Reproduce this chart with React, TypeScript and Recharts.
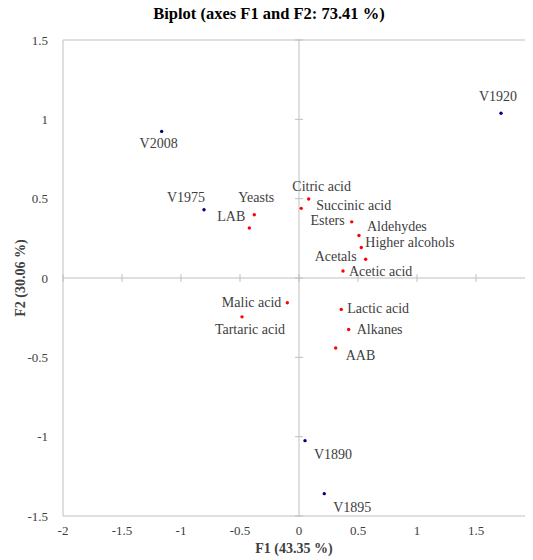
import React from 'react';
import { ScatterChart, Scatter, XAxis, YAxis, ReferenceLine } from 'recharts';

// observations (blue)
const OBS_NAMES = ['V2008', 'V1975', 'V1920', 'V1890', 'V1895'];
const OBS_F1 = [-1.164, -0.805, 1.712, 0.051, 0.214];
const OBS_F2 = [0.924, 0.43, 1.038, -1.025, -1.359];

// variables (red)
const VAR_NAMES = [
  'Citric acid', 'Succinic acid', 'Yeasts', 'LAB', 'Esters', 'Aldehydes', 'Higher alcohols',
  'Acetals', 'Acetic acid', 'Malic acid', 'Tartaric acid', 'Lactic acid', 'Alkanes', 'AAB',
];
const VAR_F1 = [0.082, 0.019, -0.379, -0.421, 0.447, 0.508, 0.528, 0.565, 0.373, -0.099, -0.483, 0.358, 0.421, 0.311];
const VAR_F2 = [0.498, 0.439, 0.399, 0.315, 0.354, 0.268, 0.192, 0.118, 0.044, -0.156, -0.245, -0.198, -0.325, -0.441];

const X_TICKS = [-2, -1.5, -1, -0.5, 0, 0.5, 1, 1.5, 2];
const Y_TICKS = [-1.5, -1, -0.5, 0, 0.5, 1, 1.5];

const TITLE = 'Biplot (axes F1 and F2: 73.41 %)';
const X_TITLE = 'F1 (43.35 %)';
const Y_TITLE = 'F2 (30.06 %)';

// where each point's label sits relative to its dot (px)
const LABEL_POS: Record<string, [number, number, 'start' | 'middle' | 'end']> = {
  V2008: [-3, 12, 'middle'],
  V1975: [-18, -12, 'middle'],
  V1920: [-3, -17, 'middle'],
  V1890: [28, 14, 'middle'],
  V1895: [28, 14, 'middle'],
  'Citric acid': [13, -12, 'middle'],
  'Succinic acid': [15, -3, 'start'],
  Yeasts: [2, -17, 'middle'],
  LAB: [-18, -12, 'middle'],
  Esters: [-7, -1, 'end'],
  Aldehydes: [8, -9, 'start'],
  'Higher alcohols': [4, -5, 'start'],
  Acetals: [-9, -3, 'end'],
  'Acetic acid': [6, 0, 'start'],
  'Malic acid': [-6, 0, 'end'],
  'Tartaric acid': [8, 13, 'middle'],
  'Lactic acid': [6, -1, 'start'],
  Alkanes: [8, 0, 'start'],
  AAB: [10, 8, 'start'],
};

const FONT = '"Liberation Serif", "Times New Roman", serif';
const GRID = '#bfbfbf';
const TXT = '#404040';

const obsData = OBS_NAMES.map((name, i) => ({ name, f1: OBS_F1[i], f2: OBS_F2[i] }));
const varData = VAR_NAMES.map((name, i) => ({ name, f1: VAR_F1[i], f2: VAR_F2[i] }));

const makeShape = (color: string) => (props: any) => {
  const { cx, cy, payload } = props;
  const [dx, dy, anchor] = LABEL_POS[payload.name] ?? [6, 0, 'start'];
  return (
    <g>
      <circle cx={cx} cy={cy} r={1.7} fill={color} />
      <text
        x={cx + dx}
        y={cy + dy}
        textAnchor={anchor}
        dominantBaseline="central"
        fontSize={14}
        fill={TXT}
        fontFamily={FONT}
      >
        {payload.name}
      </text>
    </g>
  );
};

// small cross ticks along the zero axes
const TICK_HALF_X = 0.034;
const TICK_HALF_Y = 0.025;

export default function App() {
  return (
    <div style={{ position: 'relative', margin: '-8px 0 0 -8px', width: 533, height: 560, overflow: 'hidden', background: '#fff', fontFamily: FONT }}>
      <div style={{ position: 'absolute', top: 3, left: 0, width: 538, textAlign: 'center', fontWeight: 'bold', fontSize: 16.5, lineHeight: '22px', color: '#000' }}>
        {TITLE}
      </div>
      <div style={{ position: 'absolute', left: 21, top: 278, transform: 'translate(-50%, -50%) rotate(-90deg)', whiteSpace: 'nowrap', fontWeight: 'bold', fontSize: 14, color: TXT }}>
        {Y_TITLE}
      </div>
      <div style={{ position: 'absolute', left: 294, top: 549, transform: 'translate(-50%, -50%)', whiteSpace: 'nowrap', fontWeight: 'bold', fontSize: 14, color: TXT }}>
        {X_TITLE}
      </div>
      <ScatterChart width={540} height={560} margin={{ top: 40, right: 5, bottom: 0, left: 0 }}>
        <XAxis
          type="number"
          dataKey="f1"
          domain={[-2, 2]}
          ticks={X_TICKS}
          interval={0}
          height={44}
          axisLine={{ stroke: GRID }}
          tickLine={false}
          tickSize={6}
          tickMargin={4}
          tick={{ fill: TXT, fontSize: 13, fontFamily: FONT }}
        />
        <YAxis
          type="number"
          dataKey="f2"
          domain={[-1.5, 1.5]}
          ticks={Y_TICKS}
          interval={0}
          width={63}
          axisLine={{ stroke: GRID }}
          tickLine={false}
          tickSize={6}
          tickMargin={9}
          tick={{ fill: TXT, fontSize: 13, fontFamily: FONT }}
        />
        <ReferenceLine y={1.5} stroke={GRID} />
        <ReferenceLine x={2} stroke={GRID} />
        <ReferenceLine x={0} stroke={GRID} />
        <ReferenceLine y={0} stroke={GRID} />
        {Y_TICKS.map(v => (
          <ReferenceLine
            key={`yt${v}`}
            segment={[{ x: -TICK_HALF_X, y: v }, { x: TICK_HALF_X, y: v }]}
            stroke={GRID}
          />
        ))}
        {X_TICKS.map(v => (
          <ReferenceLine
            key={`xt${v}`}
            segment={[{ x: v, y: -TICK_HALF_Y }, { x: v, y: TICK_HALF_Y }]}
            stroke={GRID}
          />
        ))}
        <Scatter data={varData} shape={makeShape('#ff0000')} isAnimationActive={false} />
        <Scatter data={obsData} shape={makeShape('#000080')} isAnimationActive={false} />
      </ScatterChart>
    </div>
  );
}
